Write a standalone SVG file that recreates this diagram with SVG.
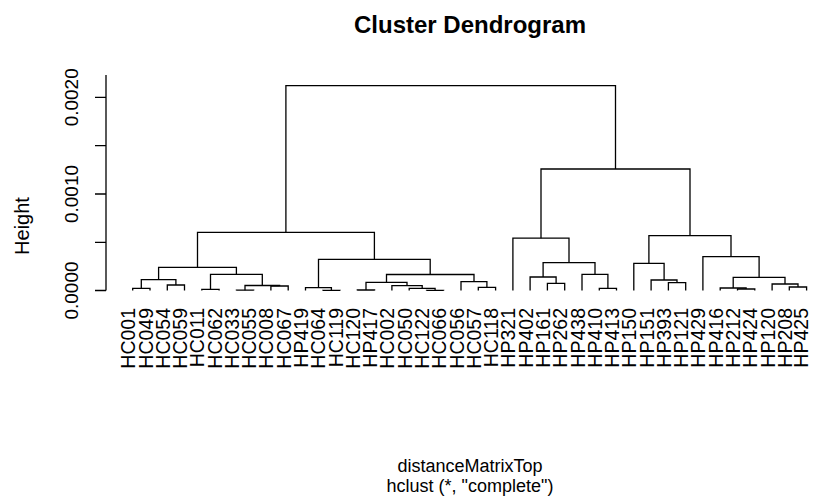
<svg xmlns="http://www.w3.org/2000/svg" width="813" height="504" viewBox="0 0 813 504">
<style>
text{font-family:"Liberation Sans",Arial,sans-serif;fill:#000}
.lab{font-size:19.5px;text-anchor:end}
.tk{font-size:19px;text-anchor:middle}
.tree path,.axis path{fill:none;stroke:#000;stroke-width:1.3}
</style>
<rect width="813" height="504" fill="#fff"/>
<text x="470" y="33" style="font-size:24px;font-weight:bold;text-anchor:middle">Cluster Dendrogram</text>
<g class="axis" id="y-axis">
<path d="M106 75V290.5M106 97.3H95M106 145.7H95M106 194H95M106 242.3H95M106 290.5H95"/>
<text class="tk" transform="translate(78,290.5) rotate(-90)">0.0000</text>
<text class="tk" transform="translate(78,194) rotate(-90)">0.0010</text>
<text class="tk" transform="translate(78,97.3) rotate(-90)">0.0020</text>
<text class="tk" transform="translate(29,226) rotate(-90)" style="font-size:20px">Height</text>
</g>
<g class="tree" id="connectors">
<path d="M132.7 290.5V288.3H150V290.5"/>
<path d="M167.3 290.5V285H184.5V290.5"/>
<path d="M141.3 288.3V279.7H175.9V285"/>
<path d="M201.8 290.5V289.3H219.1V290.5"/>
<path d="M236.4 290.5V290.2H253.7V290.5"/>
<path d="M270.9 290.5V286H288.2V290.5"/>
<path d="M245 290.2V285.5H279.6V286"/>
<path d="M210.5 289.3V274.3H262.3V285.5"/>
<path d="M158.6 279.7V267.3H236.4V274.3"/>
<path d="M322.8 290.5V290.3H340.1V290.5"/>
<path d="M305.5 290.5V287.7H331.4V290.3"/>
<path d="M357.3 290.5V290H374.6V290.5"/>
<path d="M426.5 290.5V290.3H443.7V290.5"/>
<path d="M409.2 290.5V288.3H435.1V290.3"/>
<path d="M391.9 290.5V285.7H422.2V288.3"/>
<path d="M366 290V282.3H407V285.7"/>
<path d="M478.3 290.5V287.3H495.6V290.5"/>
<path d="M461 290.5V281.7H486.9V287.3"/>
<path d="M386.5 282.3V274.5H474V281.7"/>
<path d="M318.5 287.7V259.3H430.2V274.5"/>
<path d="M197.5 267.3V232.3H374.4V259.3"/>
<path d="M547.4 290.5V283.3H564.7V290.5"/>
<path d="M530.1 290.5V277H556.1V283.3"/>
<path d="M599.3 290.5V288.3H616.5V290.5"/>
<path d="M582 290.5V274.3H607.9V288.3"/>
<path d="M543.1 277V262.7H595V274.3"/>
<path d="M512.9 290.5V238.2H569V262.7"/>
<path d="M668.4 290.5V282.7H685.7V290.5"/>
<path d="M651.1 290.5V280H677V282.7"/>
<path d="M633.8 290.5V263.3H664.1V280"/>
<path d="M737.5 290.5V289H754.8V290.5"/>
<path d="M720.2 290.5V288H746.1V289"/>
<path d="M789.3 290.5V287H806.6V290.5"/>
<path d="M772.1 290.5V284H798V287"/>
<path d="M733.2 288V277.3H785V284"/>
<path d="M702.9 290.5V256.7H759.1V277.3"/>
<path d="M648.9 263.3V235.7H731V256.7"/>
<path d="M541 238.2V169H690V235.7"/>
<path d="M285.9 232.3V85.7H615.5V169"/>
</g>
<g id="leaves">
<g id="leaf-HC001"><text class="lab" transform="translate(135.2,308) rotate(-90)">HC001</text></g>
<g id="leaf-HC049"><text class="lab" transform="translate(152.5,308) rotate(-90)">HC049</text></g>
<g id="leaf-HC054"><text class="lab" transform="translate(169.8,308) rotate(-90)">HC054</text></g>
<g id="leaf-HC059"><text class="lab" transform="translate(187,308) rotate(-90)">HC059</text></g>
<g id="leaf-HC011"><text class="lab" transform="translate(204.3,308) rotate(-90)">HC011</text></g>
<g id="leaf-HC062"><text class="lab" transform="translate(221.6,308) rotate(-90)">HC062</text></g>
<g id="leaf-HC033"><text class="lab" transform="translate(238.9,308) rotate(-90)">HC033</text></g>
<g id="leaf-HC055"><text class="lab" transform="translate(256.2,308) rotate(-90)">HC055</text></g>
<g id="leaf-HC008"><text class="lab" transform="translate(273.4,308) rotate(-90)">HC008</text></g>
<g id="leaf-HC067"><text class="lab" transform="translate(290.7,308) rotate(-90)">HC067</text></g>
<g id="leaf-HP419"><text class="lab" transform="translate(308,308) rotate(-90)">HP419</text></g>
<g id="leaf-HC064"><text class="lab" transform="translate(325.3,308) rotate(-90)">HC064</text></g>
<g id="leaf-HC119"><text class="lab" transform="translate(342.6,308) rotate(-90)">HC119</text></g>
<g id="leaf-HC120"><text class="lab" transform="translate(359.8,308) rotate(-90)">HC120</text></g>
<g id="leaf-HP417"><text class="lab" transform="translate(377.1,308) rotate(-90)">HP417</text></g>
<g id="leaf-HC002"><text class="lab" transform="translate(394.4,308) rotate(-90)">HC002</text></g>
<g id="leaf-HC050"><text class="lab" transform="translate(411.7,308) rotate(-90)">HC050</text></g>
<g id="leaf-HC122"><text class="lab" transform="translate(429,308) rotate(-90)">HC122</text></g>
<g id="leaf-HC066"><text class="lab" transform="translate(446.2,308) rotate(-90)">HC066</text></g>
<g id="leaf-HC056"><text class="lab" transform="translate(463.5,308) rotate(-90)">HC056</text></g>
<g id="leaf-HC057"><text class="lab" transform="translate(480.8,308) rotate(-90)">HC057</text></g>
<g id="leaf-HC118"><text class="lab" transform="translate(498.1,308) rotate(-90)">HC118</text></g>
<g id="leaf-HP321"><text class="lab" transform="translate(515.4,308) rotate(-90)">HP321</text></g>
<g id="leaf-HP402"><text class="lab" transform="translate(532.6,308) rotate(-90)">HP402</text></g>
<g id="leaf-HP161"><text class="lab" transform="translate(549.9,308) rotate(-90)">HP161</text></g>
<g id="leaf-HP262"><text class="lab" transform="translate(567.2,308) rotate(-90)">HP262</text></g>
<g id="leaf-HP438"><text class="lab" transform="translate(584.5,308) rotate(-90)">HP438</text></g>
<g id="leaf-HP410"><text class="lab" transform="translate(601.8,308) rotate(-90)">HP410</text></g>
<g id="leaf-HP413"><text class="lab" transform="translate(619,308) rotate(-90)">HP413</text></g>
<g id="leaf-HP150"><text class="lab" transform="translate(636.3,308) rotate(-90)">HP150</text></g>
<g id="leaf-HP151"><text class="lab" transform="translate(653.6,308) rotate(-90)">HP151</text></g>
<g id="leaf-HP393"><text class="lab" transform="translate(670.9,308) rotate(-90)">HP393</text></g>
<g id="leaf-HP121"><text class="lab" transform="translate(688.2,308) rotate(-90)">HP121</text></g>
<g id="leaf-HP429"><text class="lab" transform="translate(705.4,308) rotate(-90)">HP429</text></g>
<g id="leaf-HP416"><text class="lab" transform="translate(722.7,308) rotate(-90)">HP416</text></g>
<g id="leaf-HP212"><text class="lab" transform="translate(740,308) rotate(-90)">HP212</text></g>
<g id="leaf-HP424"><text class="lab" transform="translate(757.3,308) rotate(-90)">HP424</text></g>
<g id="leaf-HP120"><text class="lab" transform="translate(774.6,308) rotate(-90)">HP120</text></g>
<g id="leaf-HP208"><text class="lab" transform="translate(791.8,308) rotate(-90)">HP208</text></g>
<g id="leaf-HP425"><text class="lab" transform="translate(807.5,308) rotate(-90)">HP425</text></g>
</g>
<text x="470" y="472" style="font-size:18px;text-anchor:middle">distanceMatrixTop</text>
<text x="470" y="492" style="font-size:18px;text-anchor:middle">hclust (*, "complete")</text>
</svg>
